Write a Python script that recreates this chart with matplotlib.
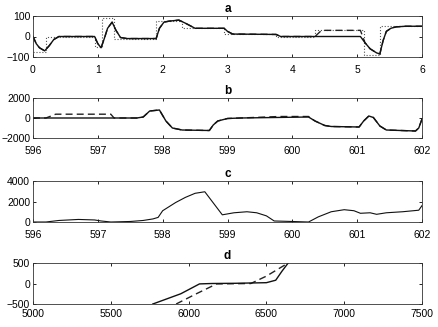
import matplotlib
matplotlib.use('Agg')
import matplotlib.pyplot as plt

plt.rcParams['font.family'] = ['Liberation Sans', 'DejaVu Sans']
plt.rcParams['font.size'] = 7.5

# panel a: time (s) vs value
a_t_solid = [0, 0.05, 0.1, 0.18, 0.25, 0.32, 0.4, 0.95, 1.0, 1.05, 1.1, 1.15, 1.22, 1.28, 1.35, 1.45, 1.9,
             1.95, 2.02, 2.1, 2.25, 2.35, 2.5, 2.95, 3.0, 3.08, 3.75, 3.82, 5.05, 5.12, 5.2, 5.3, 5.35,
             5.4, 5.45, 5.52, 5.6, 5.75, 6.0]
a_y_solid = [0, -35, -55, -70, -45, -15, 0, 0, -35, -55, -10, 40, 70, 30, -5, -10, -10,
             40, 70, 75, 80, 65, 40, 40, 25, 12, 10, 0, 0, -30, -60, -80, -85,
             -20, 25, 40, 47, 50, 50]
a_t_dash = [0, 0.05, 0.1, 0.18, 0.25, 0.32, 0.4, 0.95, 1.0, 1.05, 1.1, 1.15, 1.22, 1.28, 1.35, 1.45, 1.9,
            1.95, 2.02, 2.1, 2.25, 2.35, 2.5, 2.95, 3.0, 3.08, 3.75, 3.82, 4.35, 4.45, 5.05, 5.12, 5.2, 5.3,
            5.35, 5.4, 5.45, 5.52, 5.6, 5.75, 6.0]
a_y_dash = [0, -35, -55, -70, -45, -15, 0, 0, -35, -55, -10, 40, 70, 30, -5, -10, -10,
            40, 70, 75, 80, 65, 40, 40, 25, 12, 10, 0, 0, 30, 30, -30, -60, -80,
            -85, -20, 25, 40, 47, 50, 50]
a_t_ref = [0, 0.2, 0.2, 0.95, 0.95, 1.07, 1.07, 1.25, 1.25, 1.9, 1.9, 2.3, 2.3, 2.95, 2.95, 3.75,
           3.75, 4.35, 4.35, 5.1, 5.1, 5.35, 5.35, 6.0]
a_y_ref = [-75, -75, 0, 0, -50, -50, 90, 90, -10, -10, 75, 75, 40, 40, 10, 10,
           0, 0, 30, 30, -90, -90, 50, 50]

# panel b
b_t_solid = [596, 596.2, 597.6, 597.7, 597.8, 597.95, 598.05, 598.15, 598.3, 598.72, 598.78, 598.85,
             599.0, 599.2, 600.25, 600.35, 600.5, 600.6, 601.03, 601.1, 601.18, 601.25, 601.35, 601.45,
             601.9, 601.95, 602]
b_y_solid = [0, 0, 0, 100, 700, 800, -300, -1000, -1200, -1250, -700, -300,
             -50, 0, 100, -300, -750, -850, -900, -300, 200, 50, -800, -1200,
             -1300, -1000, -100]
b_t_dash = [596, 596.2, 596.35, 597.2, 597.25, 597.6, 597.7, 597.8, 597.95, 598.05, 598.15, 598.3,
            598.72, 598.78, 598.85, 599.0, 599.2, 599.8, 600.25, 600.35, 600.5, 600.6, 601.03, 601.1,
            601.18, 601.25, 601.35, 601.45, 601.9, 601.95, 602]
b_y_dash = [0, 0, 380, 380, 0, 0, 100, 700, 800, -300, -1000, -1200,
            -1250, -700, -300, -50, 0, 150, 150, -300, -750, -850, -900, -300,
            200, 50, -800, -1200, -1300, -1000, -100]

# panel c
c_t = [596, 596.2, 596.4, 596.7, 596.95, 597.05, 597.2, 597.5, 597.7, 597.85, 597.93, 598.0, 598.2,
       598.35, 598.5, 598.65, 598.92, 599.1, 599.3, 599.45, 599.6, 599.72, 600.0, 600.25, 600.4,
       600.6, 600.8, 600.95, 601.05, 601.2, 601.3, 601.45, 601.7, 601.95, 602]
c_y = [0, 0, 150, 250, 200, 100, 0, 50, 150, 300, 450, 1100, 1900,
       2400, 2800, 2950, 700, 900, 1000, 900, 600, 100, 50, 0, 500,
       1000, 1200, 1100, 850, 900, 750, 900, 1000, 1150, 1600]

# panel d
d_x_solid = [5770, 5950, 6070, 6150, 6300, 6500, 6560, 6600, 6640]
d_y_solid = [-500, -250, -10, 0, 5, 20, 80, 300, 500]
d_x_dash = [5920, 6050, 6180, 6400, 6500, 6640]
d_y_dash = [-500, -250, -10, 0, 180, 500]

fig = plt.figure(figsize=(4.39, 3.27), dpi=100)
W, H = 439.0, 327.0
L, R = 33, 422
boxes = [(16, 57), (98, 138), (181, 222), (263, 304)]
axs = [fig.add_axes([L / W, 1 - b / H, (R - L) / W, (b - t) / H]) for t, b in boxes]

lw = 1.0
ax = axs[0]
ax.plot(a_t_ref, a_y_ref, ':', color='#555555', lw=0.8)
ax.plot(a_t_dash, a_y_dash, '--', color='#222222', lw=lw, dashes=(5, 3))
ax.plot(a_t_solid, a_y_solid, '-', color='#111111', lw=lw)
ax.set_xlim(0, 6)
ax.set_ylim(-100, 100)
ax.set_yticks([-100, 0, 100])
ax.set_xticks(range(0, 7))
ax.set_title('a', fontweight='bold', fontsize=8.5, pad=3)

ax = axs[1]
ax.plot(b_t_dash, b_y_dash, '--', color='#222222', lw=lw, dashes=(5, 3))
ax.plot(b_t_solid, b_y_solid, '-', color='#111111', lw=lw)
ax.set_xlim(596, 602)
ax.set_ylim(-2000, 2000)
ax.set_yticks([-2000, 0, 2000])
ax.set_xticks(range(596, 603))
ax.set_title('b', fontweight='bold', fontsize=8.5, pad=3)

ax = axs[2]
ax.plot(c_t, c_y, '-', color='#111111', lw=0.8)
ax.set_xlim(596, 602)
ax.set_ylim(0, 4000)
ax.set_yticks([0, 2000, 4000])
ax.set_xticks(range(596, 603))
ax.set_title('c', fontweight='bold', fontsize=8.5, pad=3)

ax = axs[3]
ax.plot(d_x_dash, d_y_dash, '--', color='#222222', lw=lw, dashes=(5, 3))
ax.plot(d_x_solid, d_y_solid, '-', color='#111111', lw=lw)
ax.set_xlim(5000, 7500)
ax.set_ylim(-500, 500)
ax.set_yticks([-500, 0, 500])
ax.set_xticks(range(5000, 7501, 500))
ax.set_title('d', fontweight='bold', fontsize=8.5, pad=3)

for i, ax in enumerate(axs):
    ax.tick_params(direction='in', top=True, right=True, length=2.5, width=0.6, labelsize=7.5)
    ax.tick_params(axis='y', pad=2)
    ax.tick_params(axis='x', pad=3.5 if i == 3 else 6)
    for s in ax.spines.values():
        s.set_linewidth(0.6)
        s.set_color('#333333')

fig.savefig('out.png', dpi=100)
